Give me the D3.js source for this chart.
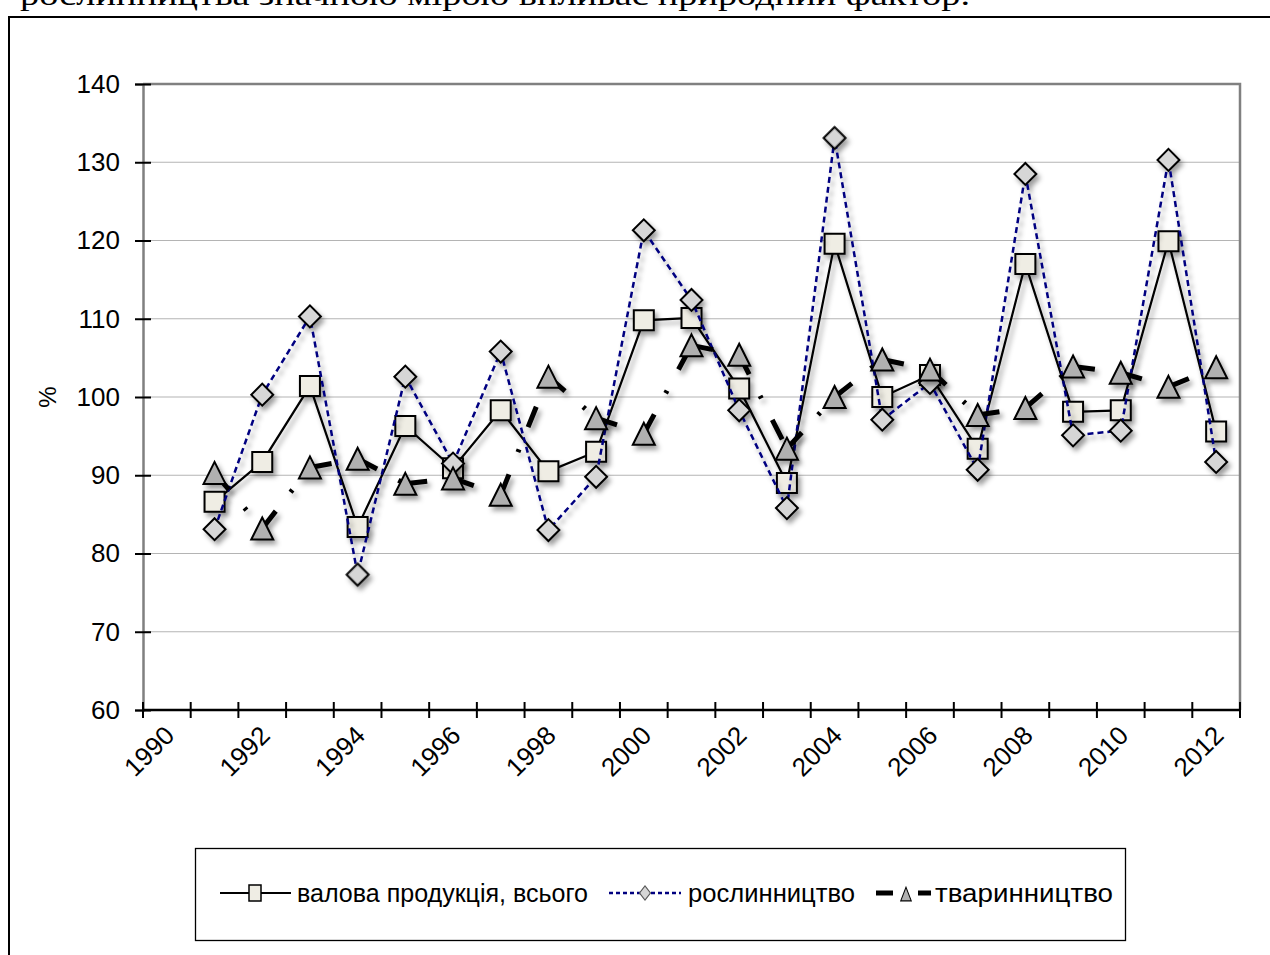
<!DOCTYPE html>
<html>
<head>
<meta charset="utf-8">
<script src="https://cdn.jsdelivr.net/npm/d3@7"></script>
<style>
  body { margin: 0; background: #fff; }
  svg { display: block; }
</style>
</head>
<body>
<svg id="chart" width="1270" height="955"></svg>
<script>
// categories on the axis (labels sit on the boundaries) and data years
const axisYears = [1990, 1991, 1992, 1993, 1994, 1995, 1996, 1997, 1998, 1999, 2000, 2001,
                   2002, 2003, 2004, 2005, 2006, 2007, 2008, 2009, 2010, 2011, 2012];
const years = [1991, 1992, 1993, 1994, 1995, 1996, 1997, 1998, 1999, 2000, 2001,
               2002, 2003, 2004, 2005, 2006, 2007, 2008, 2009, 2010, 2011, 2012];
const xLabels = [1990, 1992, 1994, 1996, 1998, 2000, 2002, 2004, 2006, 2008, 2010, 2012];
const yTicks = [60, 70, 80, 90, 100, 110, 120, 130, 140];

// index, % to previous year
const total     = [86.6, 91.7, 101.4, 83.4, 96.3, 90.9, 98.3, 90.5, 93.0, 109.8, 110.1,
                   101.1, 89.0, 119.6, 100.0, 102.8, 93.4, 117.0, 98.1, 98.3, 119.9, 95.6];
const crops     = [83.1, 100.3, 110.3, 77.3, 102.6, 91.5, 105.8, 83.0, 89.8, 121.3, 112.4,
                   98.3, 85.8, 133.1, 97.1, 101.8, 90.7, 128.5, 95.1, 95.7, 130.3, 91.7];
const livestock = [90.3, 83.2, 91.0, 92.1, 88.9, 89.6, 87.5, 102.6, 97.3, 95.3, 106.6,
                   105.4, 93.4, 100.0, 104.8, 103.5, 97.7, 98.6, 103.9, 103.1, 101.3, 103.8];

const seriesNames = ["валова продукція, всього", "рослинництво", "тваринництво"];
const topLine = "рослинництва значною мірою впливає природний фактор.";

const svg = d3.select("#chart");
const mLeft = 143, mRight = 1240, mTop = 84, mBottom = 710;

const x = d3.scaleBand().domain(axisYears).range([mLeft, mRight]).paddingInner(0).paddingOuter(0);
const cx = d => x(d) + x.bandwidth() / 2;
const y = d3.scaleLinear().domain([60, 140]).range([mBottom, mTop]);

const defs = svg.append("defs");
defs.append("filter").attr("id", "shadow")
  .attr("x", "-20%").attr("y", "-20%").attr("width", "140%").attr("height", "140%")
  .append("feDropShadow")
  .attr("dx", 3).attr("dy", 4).attr("stdDeviation", 2.5)
  .attr("flood-color", "#000").attr("flood-opacity", 0.38);

// page fragment: cut text line above the frame
svg.append("text")
  .attr("x", 20).attr("y", 5)
  .attr("font-family", "Liberation Serif, Times New Roman, serif")
  .attr("font-size", 30)
  .attr("textLength", 950)
  .attr("lengthAdjust", "spacingAndGlyphs")
  .text(topLine);

svg.append("path")
  .attr("d", "M9,955V17H1270")
  .attr("fill", "none").attr("stroke", "#000").attr("stroke-width", 2);

// gridlines
svg.append("g")
  .selectAll("line")
  .data(yTicks.filter(v => v > 60 && v < 140))
  .join("line")
  .attr("x1", mLeft).attr("x2", mRight)
  .attr("y1", d => y(d)).attr("y2", d => y(d))
  .attr("stroke", "#b4b4b4").attr("stroke-width", 1.2);

// plot border (top + right)
svg.append("path")
  .attr("d", `M${mLeft},${y(140)}H${mRight}V${mBottom}`)
  .attr("fill", "none").attr("stroke", "#808080").attr("stroke-width", 2.5);

// Y axis
const yAxis = svg.append("g")
  .attr("transform", `translate(${mLeft},0)`)
  .call(d3.axisLeft(y).tickValues(yTicks).tickSize(8).tickPadding(0));
yAxis.select(".domain").attr("stroke", "#808080").attr("stroke-width", 2.5);
yAxis.selectAll(".tick line").attr("x1", 8).attr("x2", -8).attr("stroke", "#000").attr("stroke-width", 2);
yAxis.selectAll(".tick text")
  .attr("x", -23)
  .attr("font-family", "Liberation Sans, Arial, sans-serif")
  .attr("font-size", 26).attr("fill", "#000");

svg.append("text")
  .attr("transform", `translate(56,${y(100)}) rotate(-90)`)
  .attr("text-anchor", "middle")
  .attr("font-family", "Liberation Sans, Arial, sans-serif")
  .attr("font-size", 24)
  .text("%");

// X axis: ticks on category boundaries
const xAxis = svg.append("g").attr("transform", `translate(0,${mBottom})`);
xAxis.append("line")
  .attr("x1", mLeft).attr("x2", mRight)
  .attr("stroke", "#000").attr("stroke-width", 2.5);
xAxis.selectAll(".tk")
  .data(axisYears.concat([null]))
  .join("line")
  .attr("class", "tk")
  .attr("x1", d => d === null ? mRight : x(d))
  .attr("x2", d => d === null ? mRight : x(d))
  .attr("y1", -8).attr("y2", 8)
  .attr("stroke", "#000").attr("stroke-width", 2);
xAxis.selectAll(".lbl")
  .data(xLabels)
  .join("text")
  .attr("class", "lbl")
  .attr("transform", d => `translate(${x(d) + 33},27) rotate(-45)`)
  .attr("text-anchor", "end")
  .attr("font-family", "Liberation Sans, Arial, sans-serif")
  .attr("font-size", 26)
  .text(d => d);

// markers
const triangle = {
  draw(ctx, size) {
    const h = Math.sqrt(size) / 2;
    ctx.moveTo(0, -h);
    ctx.lineTo(h, h);
    ctx.lineTo(-h, h);
    ctx.closePath();
  }
};
const squareSym = d3.symbol().type(d3.symbolSquare).size(400);
const diamondSym = d3.symbol().type(d3.symbolSquare).size(240);
const triangleSym = d3.symbol().type(triangle).size(484);

const line = d3.line().x(d => cx(d.year)).y(d => y(d.v));
const toPts = vals => years.map((yr, i) => ({ year: yr, v: vals[i] }));

// series 1: total
const g1 = svg.append("g").attr("filter", "url(#shadow)");
g1.append("path").datum(toPts(total))
  .attr("d", line).attr("fill", "none").attr("stroke", "#000").attr("stroke-width", 2.2);
g1.selectAll("path.m").data(toPts(total)).join("path").attr("class", "m")
  .attr("d", squareSym)
  .attr("transform", d => `translate(${cx(d.year)},${y(d.v)})`)
  .attr("fill", "#efede4").attr("stroke", "#000").attr("stroke-width", 2);

// series 2: crops
const g2 = svg.append("g").attr("filter", "url(#shadow)");
g2.append("path").datum(toPts(crops))
  .attr("d", line).attr("fill", "none").attr("stroke", "#000080")
  .attr("stroke-width", 2.5).attr("stroke-dasharray", "6,4");
g2.selectAll("path.m").data(toPts(crops)).join("path").attr("class", "m")
  .attr("d", diamondSym)
  .attr("transform", d => `translate(${cx(d.year)},${y(d.v)}) rotate(45)`)
  .attr("fill", "#d6d6d6").attr("stroke", "#000").attr("stroke-width", 2);

// series 3: livestock, dash pattern restarts on each segment
const g3 = svg.append("g").attr("filter", "url(#shadow)");
g3.selectAll("path.seg").data(d3.pairs(toPts(livestock))).join("path").attr("class", "seg")
  .attr("d", line).attr("fill", "none").attr("stroke", "#000")
  .attr("stroke-width", 5).attr("stroke-dasharray", "22,24,3,24");
g3.selectAll("path.m").data(toPts(livestock)).join("path").attr("class", "m")
  .attr("d", triangleSym)
  .attr("transform", d => `translate(${cx(d.year)},${y(d.v)})`)
  .attr("fill", "#b0b0b0").attr("stroke", "#000").attr("stroke-width", 2);

// legend
const lg = svg.append("g");
lg.append("rect")
  .attr("x", 195.5).attr("y", 848.5).attr("width", 930).attr("height", 92)
  .attr("fill", "#fff").attr("stroke", "#000").attr("stroke-width", 1.3);
const ly = 893;
lg.append("line").attr("x1", 220).attr("x2", 291).attr("y1", ly).attr("y2", ly)
  .attr("stroke", "#000").attr("stroke-width", 2.2);
lg.append("rect").attr("x", 249).attr("y", ly - 8).attr("width", 12).attr("height", 16)
  .attr("fill", "#efede4").attr("stroke", "#000").attr("stroke-width", 1.5);
lg.append("line").attr("x1", 609).attr("x2", 681).attr("y1", ly).attr("y2", ly)
  .attr("stroke", "#000080").attr("stroke-width", 2.5).attr("stroke-dasharray", "4,3");
lg.append("path").attr("d", d3.symbol().type(d3.symbolSquare).size(60))
  .attr("transform", `translate(645,${ly}) scale(1,1.3) rotate(45)`)
  .attr("fill", "#d6d6d6").attr("stroke", "#555").attr("stroke-width", 1);
lg.append("line").attr("x1", 876).attr("x2", 893).attr("y1", ly).attr("y2", ly)
  .attr("stroke", "#000").attr("stroke-width", 5);
lg.append("line").attr("x1", 918).attr("x2", 931).attr("y1", ly).attr("y2", ly)
  .attr("stroke", "#000").attr("stroke-width", 5);
lg.append("path").attr("d", d3.symbol().type(triangle).size(110))
  .attr("transform", `translate(906,${ly + 1}) scale(1,1.3)`)
  .attr("fill", "#b0b0b0").attr("stroke", "#000").attr("stroke-width", 1);

const legendText = [
  { x: 297, len: 291, t: seriesNames[0] },
  { x: 688, len: 167, t: seriesNames[1] },
  { x: 935, len: 178, t: seriesNames[2] }
];
lg.selectAll("text").data(legendText).join("text")
  .attr("x", d => d.x).attr("y", ly + 9)
  .attr("textLength", d => d.len).attr("lengthAdjust", "spacingAndGlyphs")
  .attr("font-family", "Liberation Sans, Arial, sans-serif")
  .attr("font-size", 26)
  .text(d => d.t);
</script>
</body>
</html>
